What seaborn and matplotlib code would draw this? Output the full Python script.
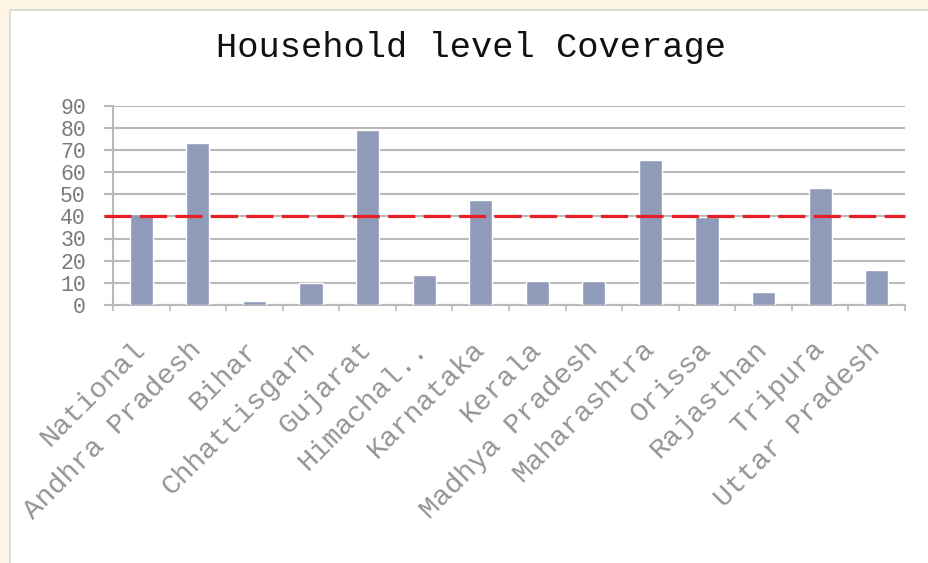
import matplotlib
matplotlib.use("Agg")
import matplotlib.pyplot as plt
import matplotlib.patches as mpatches
import seaborn as sns
import numpy as np

# данные
states = ["National", "Andhra Pradesh", "Bihar", "Chhattisgarh", "Gujarat",
          "Himachal..", "Karnataka", "Kerala", "Madhya Pradesh", "Maharashtra",
          "Orissa", "Rajasthan", "Tripura", "Uttar Pradesh"]
coverage = [41, 73, 2, 10, 79, 13.5, 47.3, 11, 11, 65.4, 39.6, 6, 53, 16]
national_level = 40
y_ticks = [0, 10, 20, 30, 40, 50, 60, 70, 80, 90]

bar_color = "#8f9bb9"
grid_color = "#b9b9b9"
label_color = "#959595"
mono = ["Liberation Mono", "DejaVu Sans Mono"]

sns.set_theme(style="white")
plt.rcParams["font.family"] = mono

fig = plt.figure(figsize=(9.29, 5.63), dpi=100)
fig.patch.set_facecolor("#fdf4e3")

# белая панель с серой рамкой
panel = mpatches.Rectangle((10 / 929, -0.05), 1.0, 1 - 10 / 563 + 0.05,
                           transform=fig.transFigure, facecolor="white",
                           edgecolor="#d6d6d6", linewidth=1.2, zorder=-10)
fig.patches.append(panel)

ax = fig.add_axes([113 / 929, 258 / 563, 792 / 929, 199.5 / 563])
ax.set_facecolor("none")
ax.set_zorder(1)

sns.barplot(x=states, y=coverage, color=bar_color, saturation=1,
            width=0.41, ax=ax, zorder=3)

ax.set_ylim(0, 90)
ax.set_xlim(-0.5, len(states) - 0.5)
ax.set_yticks(y_ticks)
ax.yaxis.grid(True, color=grid_color, linewidth=1.5, zorder=0)
ax.set_axisbelow(True)

# средний национальный уровень
ax.axhline(national_level, xmin=-9 / 792, xmax=1, color="#e81e26",
           linewidth=2.3, dashes=(8.5, 2.6), clip_on=False, zorder=4)

for side in ["top", "right"]:
    ax.spines[side].set_visible(False)
for side in ["left", "bottom"]:
    ax.spines[side].set_color(grid_color)
    ax.spines[side].set_linewidth(1.5)

ax.tick_params(axis="y", length=6.5, width=1.5, color=grid_color, pad=13,
               labelsize=15.5, labelcolor="#7a7a7a", left=True)
ax.set_xticks(np.arange(-0.5, len(states)), minor=True)
ax.tick_params(axis="x", which="minor", length=4.5, width=1.2,
               color=grid_color, bottom=True)
ax.tick_params(axis="x", which="major", length=0, pad=29,
               labelsize=20.5, labelcolor=label_color)
plt.setp(ax.get_xticklabels(), rotation=45, ha="right", va="center",
         rotation_mode="anchor")

ax.set_xlabel("")
ax.set_ylabel("")

fig.text(471 / 929, 1 - 48 / 563, "Household level Coverage",
         ha="center", va="center", fontsize=25.5, color="#111111")

plt.savefig("out.png", dpi=100, facecolor=fig.get_facecolor())
